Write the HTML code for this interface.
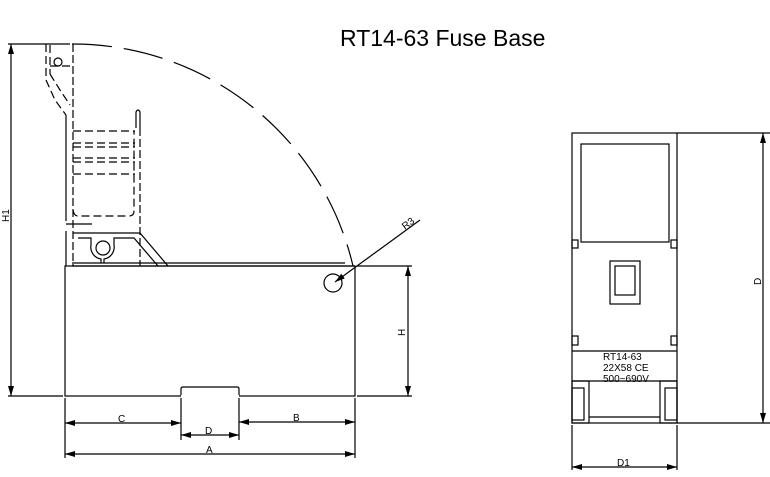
<!DOCTYPE html>
<html><head><meta charset="utf-8"><style>
html,body{margin:0;padding:0;background:#fff;}
svg{display:block;}
text{font-family:"Liberation Sans",sans-serif;fill:#000;}
</style></head><body>
<svg width="770" height="477" viewBox="0 0 770 477" xmlns="http://www.w3.org/2000/svg">
<defs>
<marker id="ar" viewBox="0 0 10 6" refX="10" refY="3" markerWidth="10" markerHeight="6" orient="auto-start-reverse" markerUnits="userSpaceOnUse"><path d="M0,0 L10,3 L0,6 z" fill="#000"/></marker>
</defs>
<text x="340" y="46" font-size="23">RT14-63 Fuse Base</text>
<g stroke="#000" stroke-width="1.2" fill="none">
<path d="M72,44 A288,288 0 0 1 353,266" stroke-dasharray="40,12"/>
<rect x="65" y="266" width="290" height="130"/>
<path d="M181,396 V389 Q181,387 183,387 H237 Q239,387 239,389 V396" />
<line x1="181" y1="396" x2="239" y2="396" stroke="#fff" stroke-width="2"/>
<line x1="72" y1="263" x2="345" y2="263"/>
<line x1="72" y1="266" x2="355" y2="266"/>
<line x1="66" y1="115" x2="66" y2="221"/>
<line x1="66" y1="231" x2="66" y2="266"/>
<line x1="66" y1="224" x2="92" y2="224"/>
<line x1="73" y1="44" x2="73" y2="266" stroke-dasharray="8,3"/>
<line x1="140" y1="128" x2="140" y2="266" stroke-dasharray="8,3"/>
<path d="M136,128 V112 Q138,108 140,112 V128"/>
<g stroke-dasharray="8,4">
<line x1="73" y1="131" x2="135" y2="131"/>
<line x1="73" y1="143" x2="135" y2="143"/>
<line x1="73" y1="147" x2="135" y2="147"/>
<line x1="73" y1="158" x2="135" y2="158"/>
<line x1="73" y1="162" x2="135" y2="162"/>
<line x1="73" y1="174" x2="135" y2="174"/>
<path d="M73,210 Q74,216 78,216 H129 Q134,216 134,211 V131"/>
<path d="M46,44 V80 L55,100 L66,115 M50,45 V74 M50,66 H70 M50,74 L60,90 L70,105"/>
</g>
<circle cx="58" cy="62" r="4"/>
<path d="M73,233 H140 L168,266 M78,238 H91 V245 A12,12 0 0 0 101,259 V263 M104,263 V259 A12,12 0 0 0 114,245 V238 H134 L158,266"/>
<circle cx="103" cy="248" r="7"/>
<circle cx="333" cy="283" r="9"/>
<line x1="420" y1="220" x2="335" y2="282" marker-end="url(#ar)"/>
<line x1="8" y1="44" x2="70" y2="44"/>
<line x1="8" y1="396" x2="63" y2="396"/>
<line x1="11" y1="44" x2="11" y2="396" marker-start="url(#ar)" marker-end="url(#ar)"/>
<line x1="357" y1="266" x2="412" y2="266"/>
<line x1="357" y1="396" x2="412" y2="396"/>
<line x1="408" y1="266" x2="408" y2="396" marker-start="url(#ar)" marker-end="url(#ar)"/>
<line x1="65" y1="398" x2="65" y2="458"/>
<line x1="355" y1="398" x2="355" y2="458"/>
<line x1="181" y1="398" x2="181" y2="440"/>
<line x1="239" y1="398" x2="239" y2="440"/>
<line x1="65" y1="423" x2="181" y2="423" marker-start="url(#ar)" marker-end="url(#ar)"/>
<line x1="239" y1="422" x2="355" y2="422" marker-start="url(#ar)" marker-end="url(#ar)"/>
<line x1="181" y1="435" x2="239" y2="435" marker-start="url(#ar)" marker-end="url(#ar)"/>
<line x1="65" y1="454" x2="355" y2="454" marker-start="url(#ar)" marker-end="url(#ar)"/>
<rect x="572" y="133" width="105" height="290"/>
<rect x="581" y="144" width="88" height="98"/>
<rect x="572" y="240" width="6" height="8"/>
<rect x="671" y="240" width="6" height="8"/>
<rect x="572" y="336" width="6" height="9"/>
<rect x="671" y="336" width="6" height="9"/>
<rect x="610" y="261" width="30" height="43"/>
<rect x="615" y="266" width="20" height="29"/>
<line x1="572" y1="351" x2="677" y2="351"/>
<line x1="572" y1="381" x2="677" y2="381"/>
<rect x="572" y="381" width="17" height="42"/>
<rect x="660" y="381" width="17" height="42"/>
<rect x="572" y="388" width="12" height="32"/>
<rect x="665" y="388" width="12" height="32"/>
<line x1="589" y1="417" x2="660" y2="417"/>
<line x1="677" y1="133" x2="770" y2="133"/>
<line x1="677" y1="423" x2="770" y2="423"/>
<line x1="763" y1="133" x2="763" y2="423" marker-start="url(#ar)" marker-end="url(#ar)"/>
<line x1="572" y1="425" x2="572" y2="470"/>
<line x1="677" y1="425" x2="677" y2="470"/>
<line x1="572" y1="467" x2="677" y2="467" marker-start="url(#ar)" marker-end="url(#ar)"/>
</g>
<g font-size="10">
<text x="118" y="422">C</text>
<text x="293" y="421">B</text>
<text x="205" y="434">D</text>
<text x="206" y="453">A</text>
<text x="617" y="466">D1</text>
<text transform="translate(9,222) rotate(-90)">H1</text>
<text transform="translate(405,336) rotate(-90)">H</text>
<text transform="translate(761,285) rotate(-90)">D</text>
<text transform="translate(405,230) rotate(-37)">R3</text>
<text x="603" y="360">RT14-63</text>
<text x="603" y="371">22X58  CE</text>
<text x="603" y="382">500~690V</text>
</g>
</svg>
</body></html>
